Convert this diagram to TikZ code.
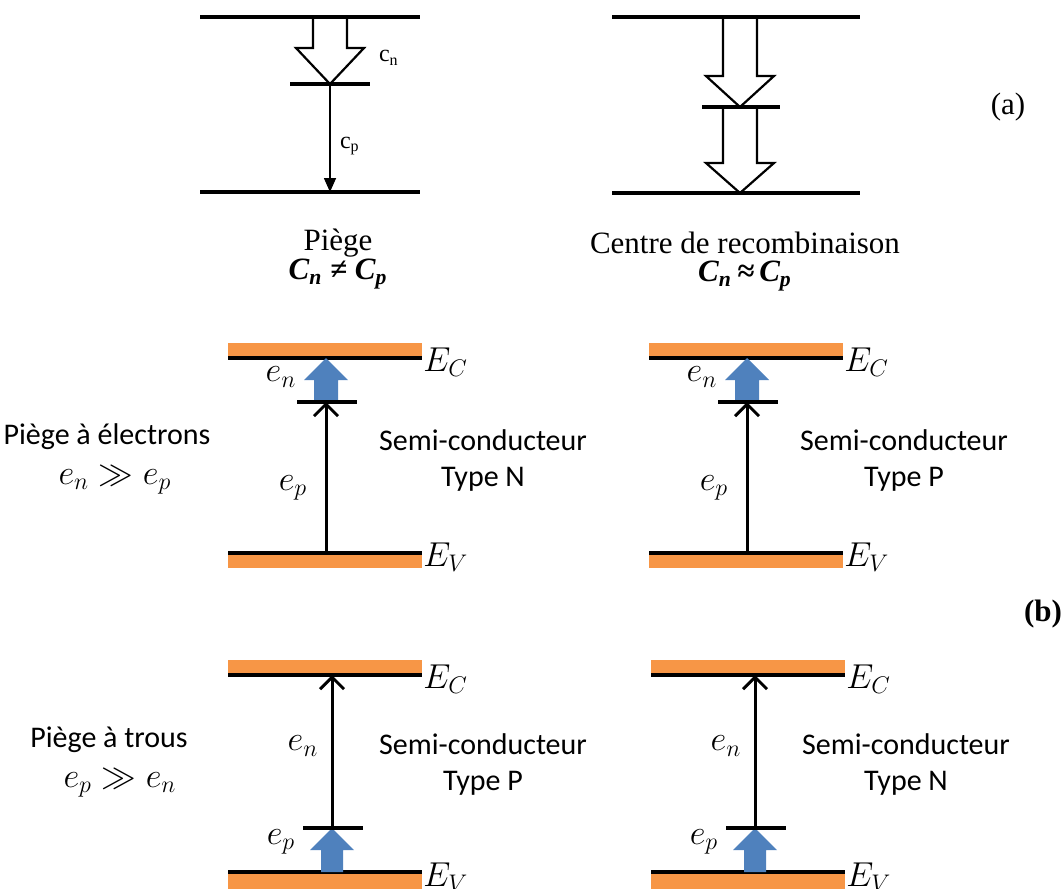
\documentclass[tikz,border=0pt]{standalone}
\usepackage{fontspec}
\setmainfont{Carlito}
\newfontfamily\timesfont{Liberation Serif}
\usetikzlibrary{arrows.meta, calc}

\definecolor{bandorange}{RGB}{247,150,70}
\definecolor{emitblue}{RGB}{79,129,189}

% hollow block arrow pointing down: start, tip, head length
\newcommand{\hollowdown}[3]{%
  \draw[hollow] ($(#1)+(-17,0)$) -- ($(#2)+(-17,-#3)$) -- ($(#2)+(-34,-#3)$) -- (#2)
    -- ($(#2)+(34,-#3)$) -- ($(#2)+(17,-#3)$) -- ($(#1)+(17,0)$);}
% blue block arrow pointing up: start, tip, shaft half width
\newcommand{\blueup}[3]{%
  \fill[emitblue] ($(#1)+(-#3,0)$) -- ($(#2)+(-#3,22)$) -- ($(#2)+(-22,22)$) -- (#2)
    -- ($(#2)+(22,22)$) -- ($(#2)+(#3,22)$) -- ($(#1)+(#3,0)$) -- cycle;}

\begin{document}
\begin{tikzpicture}[x=0.5pt, y=-0.5pt,
  level/.style={line width=1.6pt},
  band/.style={fill=bandorange, draw=none},
  hollow/.style={line width=1.1pt, line join=miter},
  thinarr/.style={line width=0.8pt, -{Triangle[length=7pt, width=6pt]}},
  emitarr/.style={line width=1.5pt, -{Straight Barb[length=6pt, width=12pt]}},
  serif/.style={font=\timesfont\fontsize{15.5}{18}\selectfont},
  capfont/.style={font=\timesfont\fontsize{12}{14}\selectfont},
  lbl/.style={font=\fontsize{15}{18}\selectfont, align=center},
  mathlbl/.style={font=\fontsize{17}{19}\selectfont}
]
\useasboundingbox (0,0) rectangle (1062,889);

% ---- (a) trap
\coordinate (aT1) at (330,17);
\coordinate (aS1) at (330,84);
\coordinate (aB1) at (330,192);
\draw[level] (200,17) -- (420,17);
\draw[level] (200,192) -- (420,192);
\hollowdown{aT1}{aS1}{36}
\draw[level] (290,84) -- (370,84);
\draw[thinarr] (aS1) -- (aB1);
\node[capfont, anchor=west] (cn) at (372,58) {c\textsubscript{n}};
\node[capfont, anchor=west] (cp) at (333,146) {c\textsubscript{p}};
\node[serif] (piege) at (338,243) {Piège};
\node[serif] (cnp) at (338,274) {\bfseries\itshape C\textsubscript{n} ≠ C\textsubscript{p}};

% ---- (a) recombination centre
\coordinate (aT2) at (740,17);
\coordinate (aS2) at (740,107);
\coordinate (aB2) at (740,193);
\draw[level] (612,17) -- (860,17);
\draw[level] (612,193) -- (860,193);
\hollowdown{aT2}{aS2}{31}
\hollowdown{aS2}{aB2}{30}
\draw[level] (702,107) -- (780,107);
\node[serif] (centre) at (745,243) {Centre de recombinaison};
\node[serif] (cnr) at (745,276) {\bfseries\itshape C\textsubscript{n}\,≈\,C\textsubscript{p}};
\node[serif] (la) at (1008,107) {(a)};

% ---- (b) electron traps
\foreach \dx/\tp in {0/N, 421/P}{
  \fill[band] (228+\dx,343) rectangle (422+\dx,358);
  \fill[band] (228+\dx,553) rectangle (422+\dx,568);
  \draw[level] (228+\dx,358) -- (422+\dx,358);
  \draw[level] (228+\dx,553) -- (422+\dx,553);
  \node[mathlbl, anchor=west, inner sep=0pt] at (423+\dx,362) {$E_C$};
  \node[mathlbl, anchor=west, inner sep=0pt] at (423+\dx,557) {$E_V$};
  \coordinate (ec) at (326+\dx,358);
  \coordinate (tr) at (326+\dx,402);
  \coordinate (ev) at (326+\dx,553);
  \blueup{tr}{ec}{12}
  \draw[level] (297+\dx,402) -- (357+\dx,402);
  \draw[emitarr] (ev) -- (tr);
  \node[mathlbl] at (281+\dx,377) {$e_n$};
  \node[mathlbl] at (293+\dx,488) {$e_p$};
  \node[lbl] at (483+\dx,460) {Semi-conducteur\\Type \tp};
}
\node[lbl] (pe) at (107,437) {Piège à électrons};
\node[mathlbl] (pen) at (115,480) {$e_n \gg e_p$};
\node[font=\timesfont\bfseries\fontsize{15.5}{18}\selectfont] (lb) at (1043,614) {(b)};

% ---- (b) hole traps
\foreach \dx/\tp in {0/P, 423/N}{
  \fill[band] (228+\dx,660) rectangle (422+\dx,675);
  \fill[band] (228+\dx,872) rectangle (422+\dx,889);
  \draw[level] (228+\dx,675) -- (422+\dx,675);
  \draw[level] (228+\dx,872) -- (422+\dx,872);
  \node[mathlbl, anchor=west, inner sep=0pt] at (423+\dx,679) {$E_C$};
  \node[mathlbl, anchor=west, inner sep=0pt] at (423+\dx,877) {$E_V$};
  \coordinate (ec) at (332+\dx,675);
  \coordinate (tr) at (332+\dx,828);
  \coordinate (ev) at (332+\dx,872);
  \blueup{ev}{tr}{11}
  \draw[level] (303+\dx,828) -- (363+\dx,828);
  \draw[emitarr] (tr) -- (ec);
  \node[mathlbl] at (303+\dx,746) {$e_n$};
  \node[mathlbl] at (281+\dx,842) {$e_p$};
  \node[lbl] at (483+\dx,764) {Semi-conducteur\\Type \tp};
}
\node[lbl] (pt) at (109,740) {Piège à trous};
\node[mathlbl] (ptn) at (120,783) {$e_p \gg e_n$};
\end{tikzpicture}
\end{document}
